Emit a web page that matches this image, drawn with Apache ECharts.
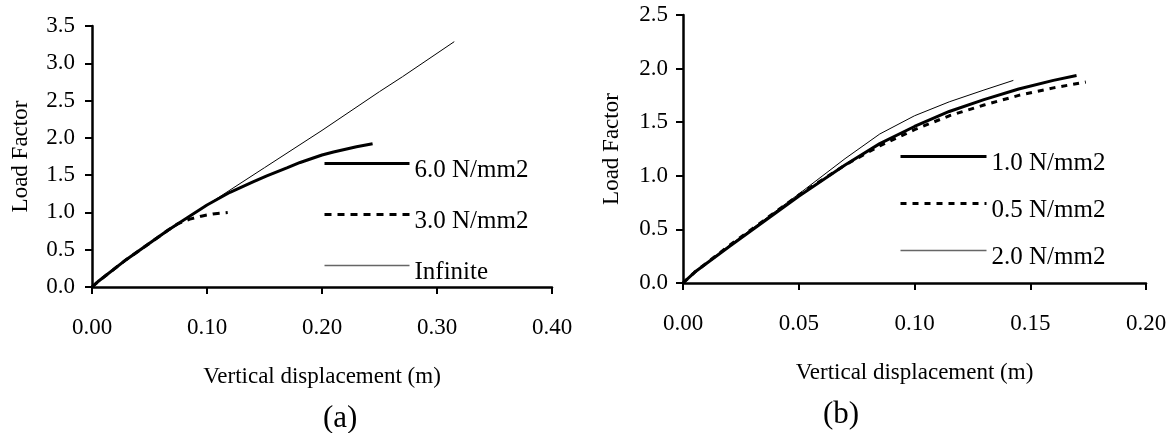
<!DOCTYPE html>
<html>
<head>
<meta charset="utf-8">
<script src="https://cdn.jsdelivr.net/npm/echarts@6/dist/echarts.min.js"></script>
<style>
  html, body { margin: 0; padding: 0; background: #fff; }
  #chart { width: 1172px; height: 433px; }
</style>
</head>
<body>
<div id="chart"></div>
<script>
// (a) - left panel
var a60x = [0, 0.005, 0.03, 0.066, 0.1, 0.12, 0.14, 0.152, 0.17, 0.181, 0.2, 0.21, 0.23, 0.244];
var a60y = [0, 0.07, 0.37, 0.76, 1.10, 1.27, 1.41, 1.49, 1.60, 1.67, 1.77, 1.81, 1.88, 1.92];
var a30x = [0, 0.005, 0.03, 0.066, 0.075, 0.085, 0.095, 0.105, 0.118];
var a30y = [0, 0.07, 0.37, 0.76, 0.85, 0.91, 0.95, 0.98, 1.00];
var aInfx = [0, 0.005, 0.02, 0.05, 0.1, 0.15, 0.2, 0.25, 0.27, 0.315];
var aInfy = [0, 0.07, 0.25, 0.58, 1.10, 1.60, 2.10, 2.62, 2.82, 3.29];

// (b) - right panel
var b10x = [0, 0.005, 0.02, 0.05, 0.07, 0.085, 0.1, 0.115, 0.13, 0.145, 0.16, 0.17];
var b10y = [0, 0.10, 0.34, 0.81, 1.10, 1.30, 1.46, 1.60, 1.71, 1.81, 1.89, 1.935];
var b05x = [0, 0.005, 0.02, 0.05, 0.07, 0.085, 0.1, 0.115, 0.13, 0.145, 0.16, 0.174];
var b05y = [0, 0.10, 0.35, 0.82, 1.10, 1.28, 1.43, 1.56, 1.66, 1.75, 1.82, 1.875];
var b20x = [0, 0.005, 0.02, 0.05, 0.07, 0.085, 0.1, 0.115, 0.13, 0.1427];
var b20y = [0, 0.10, 0.35, 0.83, 1.16, 1.39, 1.56, 1.69, 1.80, 1.89];

var FONT = 'Liberation Serif';

function pairs(xs, ys) {
  var res = [];
  for (var i = 0; i < xs.length; i++) res.push([xs[i], ys[i]]);
  return res;
}

function xAx(idx, max, step, gap) {
  return {
    type: 'value', gridIndex: idx, min: 0, max: max, interval: step,
    name: 'Vertical displacement (m)', nameLocation: 'middle', nameGap: gap,
    nameTextStyle: { fontFamily: FONT, fontSize: 23, color: '#000' },
    axisLine: { lineStyle: { color: '#000', width: 2.5 } },
    axisTick: { length: 7, lineStyle: { color: '#000', width: 2 } },
    axisLabel: { margin: 29, fontFamily: FONT, fontSize: 23, color: '#000',
      formatter: function (v) { return v.toFixed(2); } },
    splitLine: { show: false }
  };
}

function yAx(idx, max, margin, gap) {
  return {
    type: 'value', gridIndex: idx, min: 0, max: max, interval: 0.5,
    name: 'Load Factor', nameLocation: 'middle', nameGap: gap,
    nameTextStyle: { fontFamily: FONT, fontSize: 23, color: '#000' },
    axisLine: { show: true, lineStyle: { color: '#000', width: 2.5 } },
    axisTick: { show: true, length: 7, lineStyle: { color: '#000', width: 2 } },
    axisLabel: { margin: margin, fontFamily: FONT, fontSize: 23, color: '#000',
      formatter: function (v) { return v.toFixed(1); } },
    splitLine: { show: false }
  };
}

function line(name, idx, data, width, type) {
  return {
    name: name, type: 'line', xAxisIndex: idx, yAxisIndex: idx,
    data: data, showSymbol: false, symbol: 'none', smooth: false,
    lineStyle: { color: '#000', width: width, type: type },
    itemStyle: { color: '#000' },
    emphasis: { disabled: true }, animation: false
  };
}

function legItem(name, width, type, col) {
  return { name: name,
    itemStyle: { opacity: 0 },
    lineStyle: { color: col || '#000', width: width, type: type, opacity: 1 } };
}

// empty first line pushes the label a bit below the legend line, as in the original
var legendText = {
  fontFamily: FONT, fontSize: 25, color: '#000',
  rich: {
    s: { fontSize: 14, lineHeight: 14, height: 14 },
    t: { fontFamily: FONT, fontSize: 25, lineHeight: 25, color: '#000' }
  }
};

var chart = echarts.init(document.getElementById('chart'));
chart.setOption({
  backgroundColor: '#fff',
  animation: false,
  title: [
    { text: '(a)', left: 323, top: 403, padding: 0,
      textStyle: { fontFamily: FONT, fontSize: 31, fontWeight: 'normal', color: '#000' } },
    { text: '(b)', left: 823, top: 399, padding: 0,
      textStyle: { fontFamily: FONT, fontSize: 31, fontWeight: 'normal', color: '#000' } }
  ],
  legend: [
    { data: [legItem('6.0 N/mm2', 3, 'solid'), legItem('3.0 N/mm2', 3, [7, 6]),
             legItem('Infinite', 1.6, 'solid', '#666')],
      orient: 'vertical', left: 323, top: 144, padding: 0,
      itemWidth: 85, itemHeight: 14, itemGap: 12,
      formatter: '{s| }\n{t|{name}}', textStyle: legendText, selectedMode: false },
    { data: [legItem('1.0 N/mm2', 3, 'solid'), legItem('0.5 N/mm2', 3, [6, 6]),
             legItem('2.0 N/mm2', 1.6, 'solid', '#666')],
      orient: 'vertical', left: 899, top: 137, padding: 0,
      itemWidth: 86, itemHeight: 14, itemGap: 8,
      formatter: '{s| }\n{t|{name}}', textStyle: legendText, selectedMode: false }
  ],
  grid: [
    { left: 92, right: 620, top: 26, bottom: 146 },
    { left: 683, right: 26, top: 15, bottom: 150 }
  ],
  xAxis: [xAx(0, 0.4, 0.1, 78), xAx(1, 0.2, 0.05, 78)],
  yAxis: [yAx(0, 3.5, 17, 60), yAx(1, 2.5, 15, 60)],
  series: [
    line('6.0 N/mm2', 0, pairs(a60x, a60y), 3, 'solid'),
    line('3.0 N/mm2', 0, pairs(a30x, a30y), 3, [7, 6]),
    line('Infinite', 0, pairs(aInfx, aInfy), 1, 'solid'),
    line('1.0 N/mm2', 1, pairs(b10x, b10y), 3, 'solid'),
    line('0.5 N/mm2', 1, pairs(b05x, b05y), 3, [6, 6]),
    line('2.0 N/mm2', 1, pairs(b20x, b20y), 1, 'solid')
  ]
});
</script>
</body>
</html>
